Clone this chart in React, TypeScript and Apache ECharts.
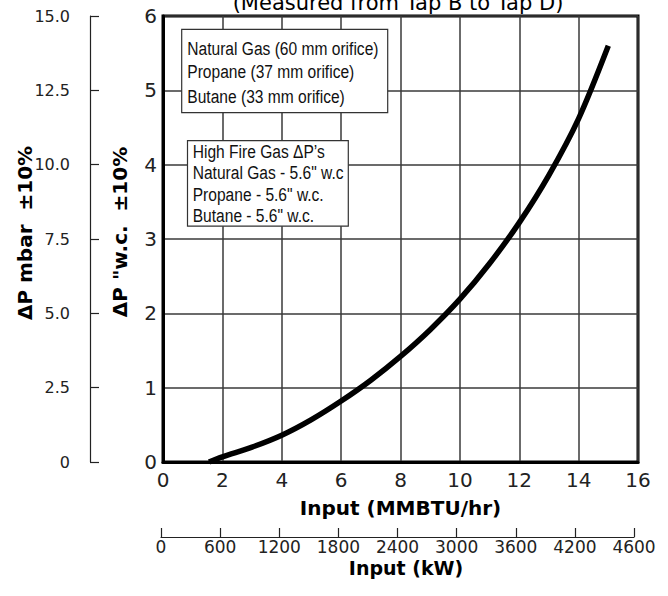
import React, { useEffect, useRef } from "react";
import * as echarts from "echarts";

// ---- data ----
const inputMMBTU = [1.55, 2, 3, 4, 5, 6, 7, 8, 9, 10, 11, 12, 13, 14, 15];
const deltaPwc = [0, 0.07, 0.2, 0.36, 0.57, 0.82, 1.1, 1.42, 1.78, 2.19, 2.67, 3.22, 3.86, 4.62, 5.6];
const kwLabels = ["0", "600", "1200", "1800", "2400", "3000", "3600", "4200", "4600"];
const orificeLines = ["Natural Gas (60 mm orifice)", "Propane (37 mm orifice)", "Butane (33 mm orifice)"];
const highFireLines = ["High Fire Gas ΔP’s", "Natural Gas - 5.6\" w.c", "Propane - 5.6\" w.c.", "Butane - 5.6\" w.c."];
const titleText = "(Measured from Tap B to Tap D)";

const FONT = "DejaVu Sans";
const NARROW = "Liberation Sans";

export default function App() {
  const ref = useRef<HTMLDivElement>(null);
  useEffect(() => {
    document.body.style.margin = "0";
    const chart = echarts.init(ref.current as HTMLDivElement, null, { renderer: "svg" });
    const gridLine = { show: true, lineStyle: { color: "#3a3a3a", width: 1.5 } };
    const box1Y = [48.3, 71.7, 96.7];
    const box2Y = [151.5, 172.8, 194.3, 215.5];
    const graphic: any[] = [
      {
        type: "text", x: 398, y: 13, z: 20,
        style: { text: titleText, fontSize: 21, fontFamily: FONT, fill: "#000", align: "center", verticalAlign: "bottom" },
      },
      {
        type: "text", x: 25, y: 233, rotation: Math.PI / 2, z: 20,
        style: { text: "ΔP mbar  ±10%", fontSize: 20, fontWeight: "bold", fontFamily: FONT, fill: "#000", align: "center", verticalAlign: "middle" },
      },
      {
        type: "text", x: 120, y: 232, rotation: Math.PI / 2, z: 20,
        style: { text: "ΔP \"w.c.  ±10%", fontSize: 20, fontWeight: "bold", fontFamily: FONT, fill: "#000", align: "center", verticalAlign: "middle" },
      },
      {
        type: "text", x: 406, y: 568, z: 20,
        style: { text: "Input (kW)", fontSize: 19, fontWeight: "bold", fontFamily: FONT, fill: "#000", align: "center", verticalAlign: "middle" },
      },
      {
        type: "rect", z: 10,
        shape: { x: 181.7, y: 29.3, width: 206, height: 83.4 },
        style: { fill: "#fff", stroke: "#333", lineWidth: 1.2 },
      },
      {
        type: "rect", z: 10,
        shape: { x: 187.5, y: 140.7, width: 160.8, height: 85.5 },
        style: { fill: "#fff", stroke: "#333", lineWidth: 1.2 },
      },
      ...orificeLines.map((t, i) => ({
        type: "text", x: 187.3, y: box1Y[i], z: 11, scaleX: 0.82,
        style: { text: t, fontSize: 19, fontFamily: NARROW, fill: "#111", align: "left", verticalAlign: "middle" },
      })),
      ...highFireLines.map((t, i) => ({
        type: "text", x: 192.7, y: box2Y[i], z: 11, scaleX: 0.82,
        style: { text: t, fontSize: 19, fontFamily: NARROW, fill: "#111", align: "left", verticalAlign: "middle" },
      })),
    ];

    chart.setOption({
      animation: false,
      backgroundColor: "#fff",
      textStyle: { fontFamily: FONT },
      grid: [
        { left: 163, right: 30, top: 16, bottom: 134, show: true, borderColor: "#000", borderWidth: 3, backgroundColor: "transparent" },
        { left: 161, right: 34, top: 500, height: 37 },
      ],
      xAxis: [
        {
          type: "value", gridIndex: 0, min: 0, max: 16, interval: 2,
          axisLine: { show: true, lineStyle: { color: "#000", width: 3 } },
          axisTick: { show: false },
          splitLine: gridLine,
          axisLabel: { fontSize: 20, color: "#222", margin: 8, fontFamily: FONT },
          name: "Input (MMBTU/hr)", nameLocation: "middle", nameGap: 36,
          nameTextStyle: { fontSize: 20, fontWeight: "bold", color: "#000", fontFamily: FONT },
        },
        {
          type: "category", gridIndex: 1, data: kwLabels, boundaryGap: false,
          axisLine: { show: true, lineStyle: { color: "#222", width: 1.2 } },
          axisTick: { show: true, inside: true, length: 9, alignWithLabel: true, lineStyle: { color: "#222", width: 1.2 } },
          axisLabel: { fontSize: 17, color: "#222", margin: 1, fontFamily: FONT, interval: 0 },
          splitLine: { show: false },
        },
      ],
      yAxis: [
        {
          type: "value", gridIndex: 0, min: 0, max: 6, interval: 1,
          axisLine: { show: true, lineStyle: { color: "#000", width: 3 } },
          axisTick: { show: false },
          splitLine: gridLine,
          axisLabel: { fontSize: 20, color: "#222", margin: 6, fontFamily: FONT },
        },
        {
          type: "value", gridIndex: 0, min: 0, max: 15, interval: 2.5, position: "left", offset: 73,
          axisLine: { show: true, lineStyle: { color: "#222", width: 1.2 } },
          axisTick: { show: true, inside: true, length: 9, lineStyle: { color: "#222", width: 1.2 } },
          splitLine: { show: false },
          axisLabel: {
            fontSize: 16, color: "#222", margin: 20, fontFamily: FONT,
            formatter: (v: number) => (v === 0 ? "0" : v.toFixed(1)),
          },
        },
        { type: "value", gridIndex: 1, show: false, min: 0, max: 1 },
      ],
      series: [
        {
          type: "line", xAxisIndex: 0, yAxisIndex: 0,
          data: inputMMBTU.map((x, i) => [x, deltaPwc[i]]),
          smooth: 0.3, showSymbol: false, symbol: "none",
          lineStyle: { color: "#000", width: 5.5, cap: "butt" },
          z: 5,
        },
      ],
      graphic,
    });
    return () => chart.dispose();
  }, []);
  return <div ref={ref} style={{ width: 668, height: 596 }} />;
}
